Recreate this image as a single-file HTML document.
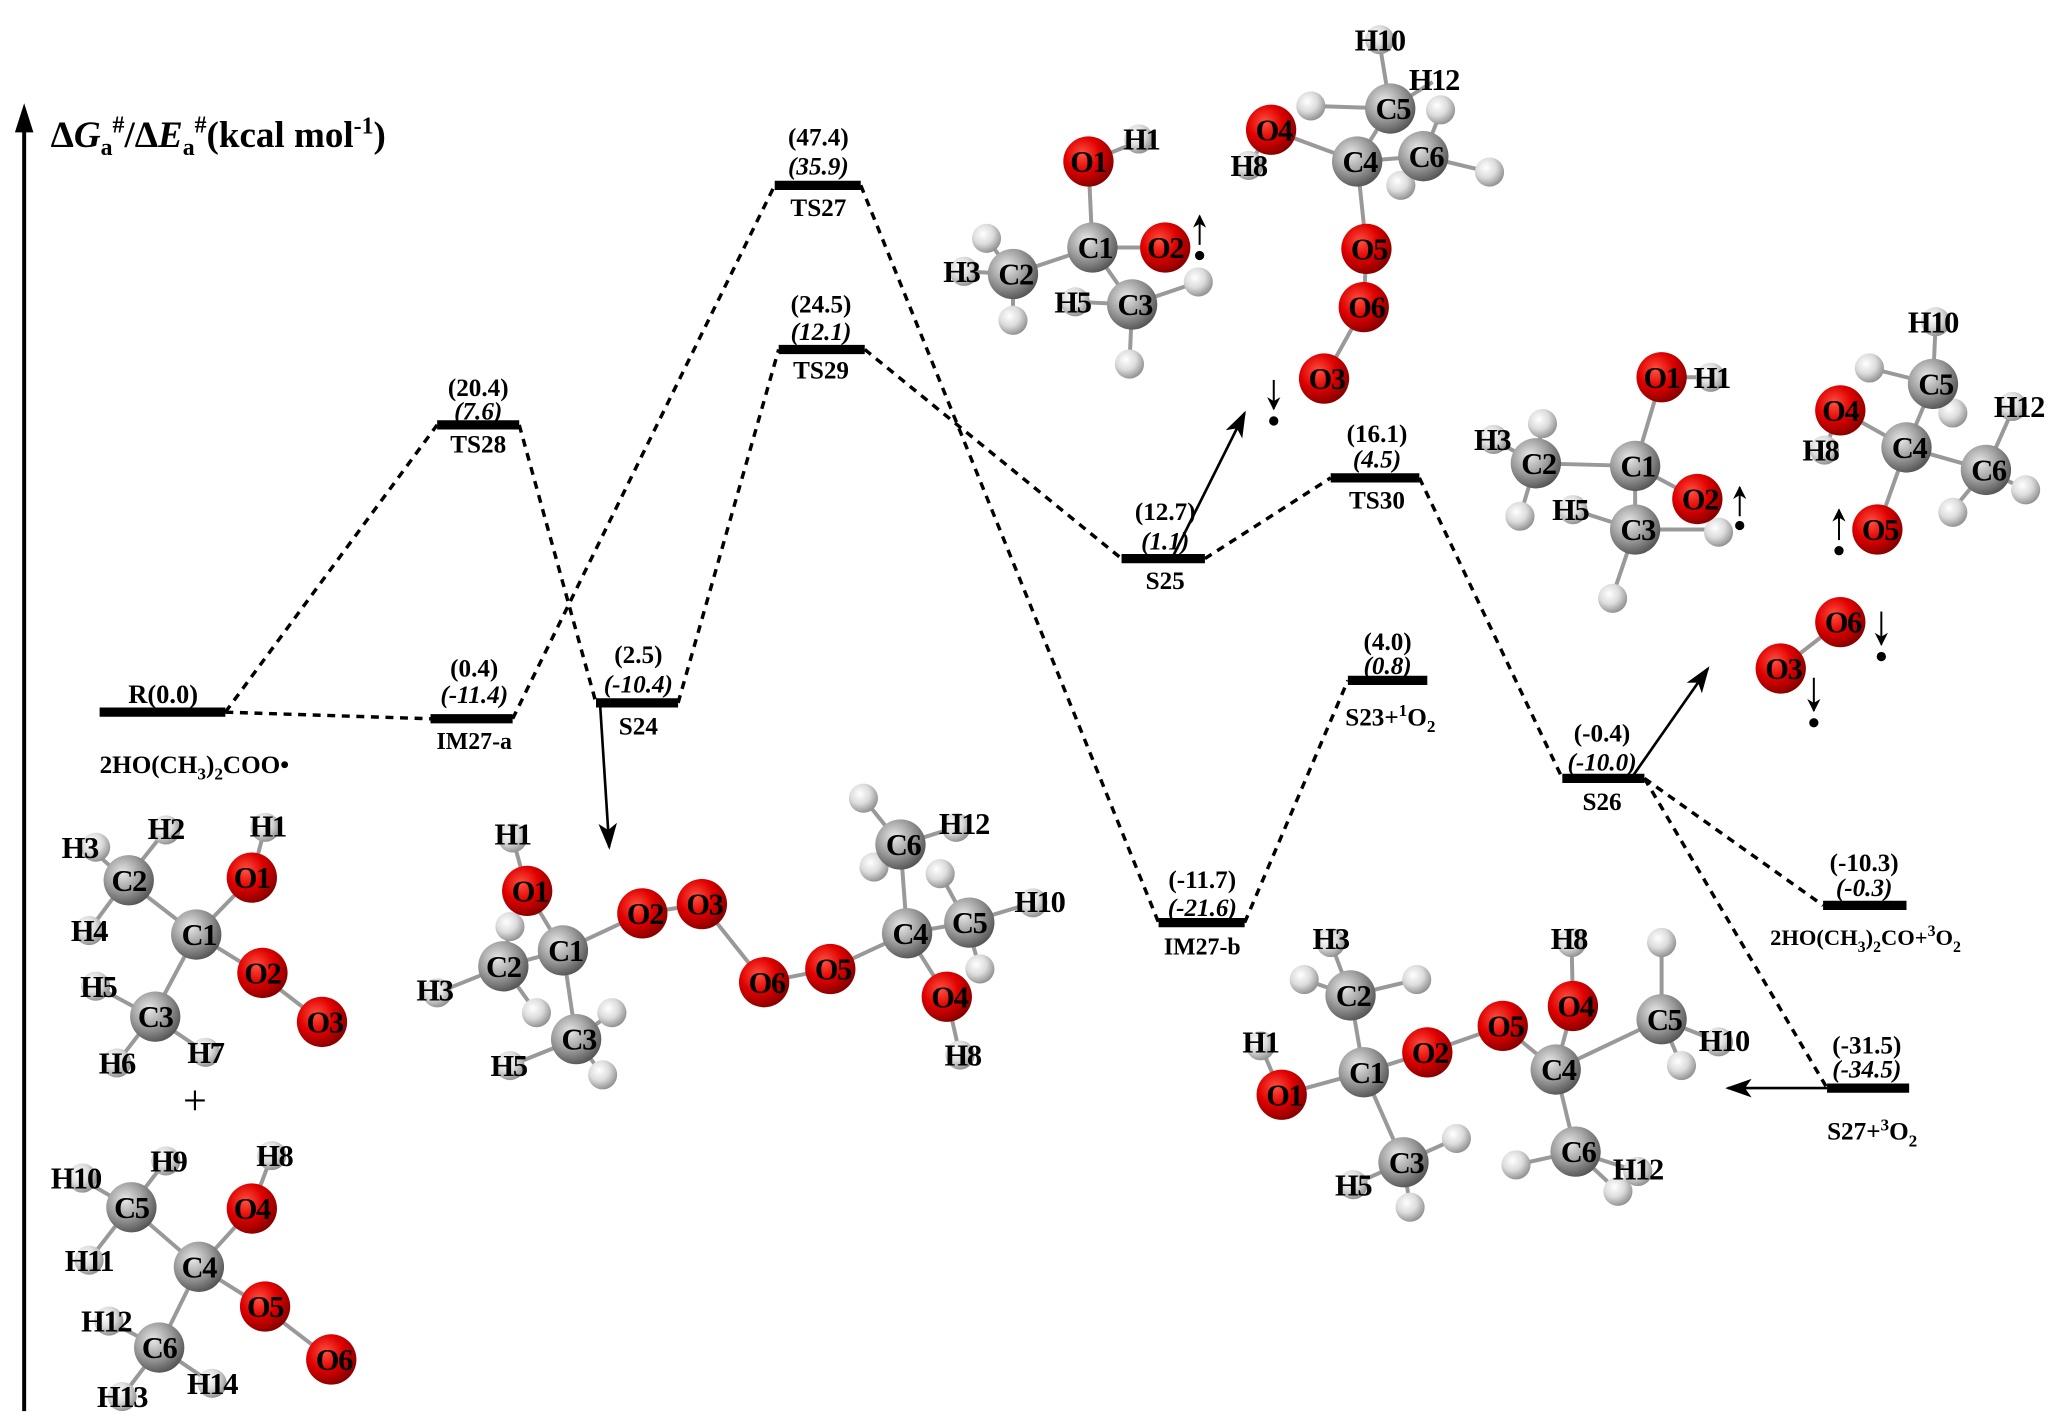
<!DOCTYPE html>
<html><head><meta charset="utf-8"><style>
html,body{margin:0;padding:0;background:#fff;}
svg{display:block;}
text{font-family:"Liberation Serif",serif;font-weight:bold;fill:#000;}
.t{font-size:19px;text-anchor:middle;}
.i{font-size:19px;text-anchor:middle;font-style:italic;}
.a{font-size:23px;text-anchor:middle;letter-spacing:-1px;}
.d{stroke:#000;stroke-width:2.6;stroke-dasharray:6,5;fill:none;}
.b{stroke:#000;stroke-width:7;}
.s{stroke:#000;stroke-width:2;}
.bd{stroke:#999;stroke-width:3;}
</style></head><body>
<svg width="2067" height="1423" viewBox="0 0 1561 1075" xmlns="http://www.w3.org/2000/svg">
<defs>
<radialGradient id="gO" cx="0.38" cy="0.35" r="0.7"><stop offset="0" stop-color="#ff5040"/><stop offset="0.5" stop-color="#e00000"/><stop offset="1" stop-color="#800000"/></radialGradient>
<radialGradient id="gC" cx="0.38" cy="0.35" r="0.7"><stop offset="0" stop-color="#e8e8e8"/><stop offset="0.5" stop-color="#a0a0a0"/><stop offset="1" stop-color="#505050"/></radialGradient>
<radialGradient id="gH" cx="0.38" cy="0.35" r="0.7"><stop offset="0" stop-color="#ffffff"/><stop offset="0.5" stop-color="#dcdcdc"/><stop offset="1" stop-color="#8a8a8a"/></radialGradient>
<marker id="ar" markerWidth="10" markerHeight="10" refX="9" refY="5" orient="auto" markerUnits="userSpaceOnUse"><path d="M0,0 L10,5 L0,10 L3,5 z" fill="#000"/></marker>
<marker id="ar2" markerWidth="20" markerHeight="14" refX="18" refY="7" orient="auto" markerUnits="userSpaceOnUse"><path d="M0,0 L20,7 L0,14 L5,7 z" fill="#000"/></marker>
</defs>

<!-- axis -->
<line x1="18" y1="1066" x2="18" y2="98" stroke="#000" stroke-width="3"/>
<path d="M18,78 L11,100 L25,100 z" fill="#000"/>
<text x="38" y="111" style="font-size:28px">Δ<tspan font-style="italic">G</tspan><tspan style="font-size:18px" dy="6">a</tspan><tspan style="font-size:18px" dy="-17">#</tspan><tspan dy="11">/Δ</tspan><tspan font-style="italic">E</tspan><tspan style="font-size:18px" dy="6">a</tspan><tspan style="font-size:18px" dy="-17">#</tspan><tspan dy="11">(kcal mol</tspan><tspan style="font-size:18px" dy="-10">-1</tspan><tspan dy="10">)</tspan></text>

<!-- dashed connectors -->
<g class="d">
<line x1="170" y1="538" x2="330" y2="321"/>
<line x1="170" y1="538" x2="325" y2="543"/>
<line x1="392" y1="321" x2="450" y2="531"/>
<line x1="387" y1="543" x2="585" y2="140"/>
<line x1="512" y1="531" x2="588" y2="264"/>
<line x1="650" y1="140" x2="875" y2="697"/>
<line x1="653" y1="264" x2="847" y2="422"/>
<line x1="910" y1="422" x2="1005" y2="361"/>
<line x1="940" y1="697" x2="1018" y2="514"/>
<line x1="1072" y1="361" x2="1180" y2="588"/>
<line x1="1242" y1="588" x2="1377" y2="684"/>
<line x1="1242" y1="588" x2="1380" y2="822"/>
</g>

<!-- bars -->
<g class="b">
<line x1="75" y1="538" x2="170" y2="538"/>
<line x1="330" y1="321" x2="392" y2="321"/>
<line x1="325" y1="543" x2="387" y2="543"/>
<line x1="450" y1="531" x2="512" y2="531"/>
<line x1="585" y1="140" x2="650" y2="140"/>
<line x1="588" y1="264" x2="653" y2="264"/>
<line x1="847" y1="422" x2="910" y2="422"/>
<line x1="1005" y1="361" x2="1072" y2="361"/>
<line x1="1018" y1="514" x2="1078" y2="514"/>
<line x1="875" y1="697" x2="940" y2="697"/>
<line x1="1180" y1="588" x2="1242" y2="588"/>
<line x1="1377" y1="684" x2="1440" y2="684"/>
<line x1="1380" y1="822" x2="1442" y2="822"/>
</g>

<!-- solid arrows -->
<g class="s">
<line x1="885" y1="422" x2="940" y2="312" marker-end="url(#ar2)"/>
<line x1="453" y1="531" x2="460" y2="640" marker-end="url(#ar2)"/>
<line x1="1232" y1="588" x2="1290" y2="505" marker-end="url(#ar2)"/>
<line x1="1380" y1="822" x2="1305" y2="822" marker-end="url(#ar2)"/>
</g>

<!-- energy labels -->
<text class="t" x="123" y="531" style="font-size:20px">R(0.0)</text>
<text x="75" y="584" style="font-size:19px">2HO(CH<tspan dy="5" style="font-size:13px">3</tspan><tspan dy="-5">)</tspan><tspan dy="5" style="font-size:13px">2</tspan><tspan dy="-5">COO•</tspan></text>

<text class="t" x="361" y="299">(20.4)</text><text class="i" x="361" y="317">(7.6)</text><text class="t" x="361" y="342">TS28</text>
<text class="t" x="358" y="511">(0.4)</text><text class="i" x="358" y="531">(-11.4)</text><text class="t" x="358" y="566" style="font-size:18px">IM27-a</text>
<text class="t" x="482" y="501">(2.5)</text><text class="i" x="482" y="523">(-10.4)</text><text class="t" x="482" y="555">S24</text>
<text class="t" x="618" y="110">(47.4)</text><text class="i" x="618" y="132">(35.9)</text><text class="t" x="618" y="163">TS27</text>
<text class="t" x="620" y="236">(24.5)</text><text class="i" x="620" y="257">(12.1)</text><text class="t" x="620" y="286">TS29</text>
<text class="t" x="880" y="393">(12.7)</text><text class="i" x="880" y="415">(1.1)</text><text class="t" x="880" y="445">S25</text>
<text class="t" x="1040" y="334">(16.1)</text><text class="i" x="1040" y="353">(4.5)</text><text class="t" x="1040" y="384">TS30</text>
<text class="t" x="1048" y="491">(4.0)</text><text class="i" x="1048" y="509">(0.8)</text><text x="1016" y="548" style="font-size:19px">S23+<tspan dy="-7" style="font-size:13px">1</tspan><tspan dy="7">O</tspan><tspan dy="5" style="font-size:13px">2</tspan></text>
<text class="t" x="908" y="671">(-11.7)</text><text class="i" x="908" y="692">(-21.6)</text><text class="t" x="908" y="721" style="font-size:18px">IM27-b</text>
<text class="t" x="1210" y="560">(-0.4)</text><text class="i" x="1210" y="582">(-10.0)</text><text class="t" x="1210" y="612">S26</text>
<text class="t" x="1408" y="658">(-10.3)</text><text class="i" x="1408" y="677">(-0.3)</text>
<text x="1337" y="714" style="font-size:17px">2HO(CH<tspan dy="5" style="font-size:12px">3</tspan><tspan dy="-5">)</tspan><tspan dy="5" style="font-size:12px">2</tspan><tspan dy="-5">CO+</tspan><tspan dy="-7" style="font-size:12px">3</tspan><tspan dy="7">O</tspan><tspan dy="5" style="font-size:12px">2</tspan></text>
<text class="t" x="1410" y="796">(-31.5)</text><text class="i" x="1410" y="814">(-34.5)</text>
<text x="1380" y="861" style="font-size:19px">S27+<tspan dy="-7" style="font-size:13px">3</tspan><tspan dy="7">O</tspan><tspan dy="5" style="font-size:13px">2</tspan></text>
<text x="147" y="842" style="font-size:32px;font-weight:normal;text-anchor:middle">+</text>

<!-- ===== Molecule 1 (reactant A) ===== -->
<g class="bd">
<line x1="95" y1="665" x2="148" y2="706"/><line x1="148" y1="706" x2="190" y2="663"/><line x1="148" y1="706" x2="195" y2="735"/><line x1="195" y1="735" x2="243" y2="772"/><line x1="148" y1="706" x2="115" y2="768"/>
<line x1="95" y1="665" x2="67" y2="640"/><line x1="95" y1="665" x2="125" y2="627"/><line x1="95" y1="665" x2="67" y2="703"/><line x1="190" y1="663" x2="200" y2="625"/>
<line x1="115" y1="768" x2="72" y2="745"/><line x1="115" y1="768" x2="88" y2="803"/><line x1="115" y1="768" x2="155" y2="795"/>
</g>
<g fill="url(#gH)"><circle cx="72" cy="640" r="11"/><circle cx="125" cy="627" r="11"/><circle cx="200" cy="625" r="11"/><circle cx="67" cy="703" r="11"/><circle cx="72" cy="745" r="11"/><circle cx="88" cy="803" r="11"/><circle cx="155" cy="795" r="11"/></g>
<g fill="url(#gC)"><circle cx="97" cy="665" r="19"/><circle cx="148" cy="706" r="19"/><circle cx="117" cy="768" r="19"/></g>
<g fill="url(#gO)"><circle cx="190" cy="663" r="19"/><circle cx="198" cy="735" r="19"/><circle cx="243" cy="772" r="19"/></g>
<g class="a">
<text x="60" y="648">H3</text><text x="125" y="634">H2</text><text x="202" y="632">H1</text><text x="97" y="673">C2</text><text x="190" y="671">O1</text><text x="150" y="714">C1</text><text x="67" y="711">H4</text><text x="198" y="743">O2</text><text x="245" y="780">O3</text><text x="74" y="753">H5</text><text x="117" y="776">C3</text><text x="88" y="811">H6</text><text x="155" y="803">H7</text>
</g>

<!-- ===== Molecule 2 (reactant B) ===== -->
<g class="bd">
<line x1="98" y1="912" x2="150" y2="957"/><line x1="150" y1="957" x2="190" y2="913"/><line x1="150" y1="957" x2="198" y2="987"/><line x1="198" y1="987" x2="250" y2="1027"/><line x1="150" y1="957" x2="120" y2="1018"/>
<line x1="98" y1="912" x2="60" y2="890"/><line x1="98" y1="912" x2="125" y2="877"/><line x1="98" y1="912" x2="67" y2="952"/><line x1="190" y1="913" x2="205" y2="873"/><line x1="120" y1="1018" x2="82" y2="998"/><line x1="120" y1="1018" x2="92" y2="1055"/><line x1="120" y1="1018" x2="160" y2="1045"/>
</g>
<g fill="url(#gH)"><circle cx="62" cy="890" r="11"/><circle cx="125" cy="877" r="11"/><circle cx="205" cy="873" r="11"/><circle cx="67" cy="952" r="11"/><circle cx="82" cy="998" r="11"/><circle cx="92" cy="1055" r="11"/><circle cx="160" cy="1045" r="11"/></g>
<g fill="url(#gC)"><circle cx="99" cy="912" r="19"/><circle cx="150" cy="957" r="19"/><circle cx="120" cy="1018" r="19"/></g>
<g fill="url(#gO)"><circle cx="190" cy="913" r="19"/><circle cx="200" cy="987" r="19"/><circle cx="250" cy="1027" r="19"/></g>
<g class="a">
<text x="57" y="898">H10</text><text x="127" y="885">H9</text><text x="207" y="881">H8</text><text x="99" y="920">C5</text><text x="190" y="921">O4</text><text x="67" y="960">H11</text><text x="150" y="965">C4</text><text x="200" y="995">O5</text><text x="252" y="1035">O6</text><text x="80" y="1006">H12</text><text x="120" y="1026">C6</text><text x="92" y="1063">H13</text><text x="160" y="1053">H14</text>
</g>

<!-- ===== Molecule S24 ===== -->
<g class="bd">
<line x1="398" y1="673" x2="425" y2="718"/><line x1="425" y1="718" x2="380" y2="730"/><line x1="425" y1="718" x2="485" y2="690"/><line x1="485" y1="690" x2="530" y2="683"/><line x1="530" y1="683" x2="577" y2="742"/><line x1="577" y1="742" x2="627" y2="732"/><line x1="627" y1="732" x2="685" y2="705"/><line x1="685" y1="705" x2="730" y2="697"/><line x1="685" y1="705" x2="680" y2="638"/><line x1="685" y1="705" x2="715" y2="753"/><line x1="425" y1="718" x2="435" y2="785"/>
<line x1="398" y1="673" x2="387" y2="633"/><line x1="380" y1="730" x2="330" y2="750"/><line x1="380" y1="730" x2="385" y2="700"/><line x1="380" y1="730" x2="405" y2="765"/><line x1="435" y1="785" x2="462" y2="765"/><line x1="435" y1="785" x2="385" y2="805"/><line x1="435" y1="785" x2="455" y2="812"/><line x1="680" y1="638" x2="652" y2="603"/><line x1="680" y1="638" x2="722" y2="625"/><line x1="680" y1="638" x2="660" y2="655"/><line x1="730" y1="697" x2="780" y2="682"/><line x1="730" y1="697" x2="710" y2="660"/><line x1="730" y1="697" x2="740" y2="732"/><line x1="715" y1="753" x2="725" y2="797"/>
</g>
<g fill="url(#gH)"><circle cx="387" cy="633" r="11"/><circle cx="385" cy="700" r="11"/><circle cx="330" cy="750" r="11"/><circle cx="405" cy="765" r="11"/><circle cx="462" cy="765" r="11"/><circle cx="385" cy="805" r="11"/><circle cx="455" cy="812" r="11"/><circle cx="652" cy="603" r="11"/><circle cx="722" cy="625" r="11"/><circle cx="660" cy="655" r="11"/><circle cx="710" cy="660" r="11"/><circle cx="780" cy="682" r="11"/><circle cx="740" cy="732" r="11"/><circle cx="725" cy="797" r="11"/></g>
<g fill="url(#gC)"><circle cx="380" cy="730" r="19"/><circle cx="425" cy="718" r="19"/><circle cx="435" cy="785" r="19"/><circle cx="685" cy="705" r="19"/><circle cx="732" cy="697" r="19"/><circle cx="680" cy="638" r="19"/></g>
<g fill="url(#gO)"><circle cx="398" cy="673" r="19"/><circle cx="485" cy="690" r="19"/><circle cx="530" cy="683" r="19"/><circle cx="577" cy="742" r="19"/><circle cx="627" cy="732" r="19"/><circle cx="715" cy="753" r="19"/></g>
<g class="a">
<text x="387" y="638">H1</text><text x="400" y="681">O1</text><text x="380" y="738">C2</text><text x="427" y="726">C1</text><text x="487" y="698">O2</text><text x="532" y="691">O3</text><text x="328" y="756">H3</text><text x="437" y="793">C3</text><text x="384" y="813">H5</text><text x="579" y="750">O6</text><text x="629" y="740">O5</text><text x="687" y="713">C4</text><text x="732" y="705">C5</text><text x="682" y="646">C6</text><text x="728" y="630">H12</text><text x="785" y="689">H10</text><text x="717" y="761">O4</text><text x="727" y="805">H8</text>
</g>

<!-- ===== Top molecules (S25) ===== -->
<g class="bd">
<line x1="822" y1="122" x2="825" y2="187"/><line x1="822" y1="122" x2="860" y2="107"/><line x1="825" y1="187" x2="880" y2="187"/><line x1="825" y1="187" x2="765" y2="207"/><line x1="825" y1="187" x2="855" y2="230"/><line x1="765" y1="207" x2="745" y2="180"/><line x1="765" y1="207" x2="728" y2="205"/><line x1="765" y1="207" x2="765" y2="242"/><line x1="855" y1="230" x2="905" y2="213"/><line x1="855" y1="230" x2="812" y2="228"/><line x1="855" y1="230" x2="853" y2="275"/>
<line x1="960" y1="98" x2="1025" y2="122"/><line x1="960" y1="98" x2="943" y2="125"/><line x1="1025" y1="122" x2="1050" y2="82"/><line x1="1025" y1="122" x2="1075" y2="118"/><line x1="1025" y1="122" x2="1032" y2="188"/><line x1="1032" y1="188" x2="1030" y2="232"/><line x1="1030" y1="232" x2="1000" y2="286"/><line x1="1050" y1="82" x2="1042" y2="33"/><line x1="1050" y1="82" x2="990" y2="80"/><line x1="1050" y1="82" x2="1082" y2="62"/><line x1="1075" y1="118" x2="1125" y2="130"/><line x1="1075" y1="118" x2="1058" y2="140"/><line x1="1075" y1="118" x2="1088" y2="85"/>
</g>
<g fill="url(#gH)"><circle cx="860" cy="105" r="11"/><circle cx="745" cy="180" r="11"/><circle cx="728" cy="205" r="11"/><circle cx="765" cy="242" r="11"/><circle cx="905" cy="213" r="11"/><circle cx="812" cy="228" r="11"/><circle cx="853" cy="275" r="11"/><circle cx="943" cy="125" r="11"/><circle cx="1042" cy="30" r="11"/><circle cx="990" cy="80" r="11"/><circle cx="1088" cy="83" r="11"/><circle cx="1125" cy="130" r="11"/><circle cx="1058" cy="140" r="11"/></g>
<g fill="url(#gC)"><circle cx="765" cy="207" r="19"/><circle cx="825" cy="187" r="19"/><circle cx="855" cy="230" r="19"/><circle cx="1025" cy="122" r="19"/><circle cx="1050" cy="82" r="19"/><circle cx="1075" cy="118" r="19"/></g>
<g fill="url(#gO)"><circle cx="822" cy="122" r="19"/><circle cx="880" cy="187" r="19"/><circle cx="960" cy="98" r="19"/><circle cx="1032" cy="188" r="19"/><circle cx="1030" cy="232" r="19"/><circle cx="1000" cy="286" r="19"/></g>
<g class="a">
<text x="822" y="130">O1</text><text x="862" y="113">H1</text><text x="827" y="195">C1</text><text x="880" y="195">O2</text><text x="767" y="215">C2</text><text x="726" y="213">H3</text><text x="857" y="238">C3</text><text x="810" y="236">H5</text><text x="962" y="106">O4</text><text x="943" y="133">H8</text><text x="1027" y="130">C4</text><text x="1052" y="90">C5</text><text x="1042" y="38">H10</text><text x="1083" y="68">H12</text><text x="1077" y="126">C6</text><text x="1034" y="196">O5</text><text x="1032" y="240">O6</text><text x="1002" y="294">O3</text>
</g>
<circle cx="906" cy="193" r="3.5" fill="#000"/><line x1="906" y1="185" x2="906" y2="163" stroke="#000" stroke-width="1.5" marker-end="url(#ar)"/>
<circle cx="962" cy="318" r="3.5" fill="#000"/><line x1="962" y1="287" x2="962" y2="309" stroke="#000" stroke-width="1.5" marker-end="url(#ar)"/>

<!-- ===== S26 fragments ===== -->
<g class="bd">
<line x1="1255" y1="285" x2="1235" y2="352"/><line x1="1255" y1="285" x2="1292" y2="285"/><line x1="1235" y1="352" x2="1160" y2="350"/><line x1="1235" y1="352" x2="1282" y2="377"/><line x1="1235" y1="352" x2="1235" y2="400"/><line x1="1160" y1="350" x2="1165" y2="320"/><line x1="1160" y1="350" x2="1128" y2="332"/><line x1="1160" y1="350" x2="1148" y2="390"/><line x1="1235" y1="400" x2="1298" y2="400"/><line x1="1235" y1="400" x2="1188" y2="385"/><line x1="1235" y1="400" x2="1218" y2="450"/>
<line x1="1460" y1="290" x2="1440" y2="338"/><line x1="1460" y1="290" x2="1462" y2="245"/><line x1="1460" y1="290" x2="1412" y2="278"/><line x1="1460" y1="290" x2="1475" y2="310"/><line x1="1440" y1="338" x2="1390" y2="310"/><line x1="1440" y1="338" x2="1500" y2="355"/><line x1="1440" y1="338" x2="1418" y2="400"/><line x1="1390" y1="310" x2="1378" y2="340"/><line x1="1500" y1="355" x2="1530" y2="370"/><line x1="1500" y1="355" x2="1475" y2="385"/><line x1="1500" y1="355" x2="1520" y2="310"/>
<line x1="1390" y1="470" x2="1345" y2="505"/>
</g>
<g fill="url(#gH)"><circle cx="1292" cy="285" r="11"/><circle cx="1165" cy="320" r="11"/><circle cx="1128" cy="332" r="11"/><circle cx="1148" cy="390" r="11"/><circle cx="1298" cy="402" r="11"/><circle cx="1188" cy="385" r="11"/><circle cx="1218" cy="452" r="11"/><circle cx="1462" cy="243" r="11"/><circle cx="1412" cy="278" r="11"/><circle cx="1475" cy="312" r="11"/><circle cx="1378" cy="340" r="11"/><circle cx="1530" cy="370" r="11"/><circle cx="1475" cy="387" r="11"/><circle cx="1520" cy="307" r="11"/></g>
<g fill="url(#gC)"><circle cx="1160" cy="350" r="19"/><circle cx="1235" cy="352" r="19"/><circle cx="1235" cy="400" r="19"/><circle cx="1460" cy="290" r="19"/><circle cx="1440" cy="338" r="19"/><circle cx="1500" cy="355" r="19"/></g>
<g fill="url(#gO)"><circle cx="1255" cy="285" r="19"/><circle cx="1282" cy="377" r="19"/><circle cx="1390" cy="310" r="19"/><circle cx="1418" cy="400" r="19"/><circle cx="1390" cy="470" r="19"/><circle cx="1345" cy="505" r="19"/></g>
<g class="a">
<text x="1255" y="293">O1</text><text x="1293" y="293">H1</text><text x="1127" y="340">H3</text><text x="1162" y="358">C2</text><text x="1237" y="360">C1</text><text x="1284" y="385">O2</text><text x="1186" y="393">H5</text><text x="1237" y="408">C3</text>
<text x="1460" y="251">H10</text><text x="1462" y="298">C5</text><text x="1390" y="318">O4</text><text x="1525" y="315">H12</text><text x="1375" y="348">H8</text><text x="1442" y="346">C4</text><text x="1502" y="363">C6</text><text x="1420" y="408">O5</text><text x="1392" y="478">O6</text><text x="1347" y="513">O3</text>
</g>
<circle cx="1314" cy="397" r="3.5" fill="#000"/><line x1="1314" y1="390" x2="1314" y2="368" stroke="#000" stroke-width="1.5" marker-end="url(#ar)"/>
<circle cx="1389" cy="416" r="3.5" fill="#000"/><line x1="1389" y1="408" x2="1389" y2="385" stroke="#000" stroke-width="1.5" marker-end="url(#ar)"/>
<circle cx="1421" cy="496" r="3.5" fill="#000"/><line x1="1421" y1="462" x2="1421" y2="487" stroke="#000" stroke-width="1.5" marker-end="url(#ar)"/>
<circle cx="1370" cy="546" r="3.5" fill="#000"/><line x1="1370" y1="512" x2="1370" y2="537" stroke="#000" stroke-width="1.5" marker-end="url(#ar)"/>

<!-- ===== S27 molecule ===== -->
<g class="bd">
<line x1="1020" y1="752" x2="1030" y2="810"/><line x1="1030" y1="810" x2="968" y2="827"/><line x1="1030" y1="810" x2="1078" y2="795"/><line x1="1078" y1="795" x2="1135" y2="775"/><line x1="1135" y1="775" x2="1175" y2="808"/><line x1="1175" y1="808" x2="1188" y2="760"/><line x1="1175" y1="808" x2="1255" y2="770"/><line x1="1175" y1="808" x2="1190" y2="870"/><line x1="1030" y1="810" x2="1060" y2="878"/>
<line x1="1020" y1="752" x2="1005" y2="712"/><line x1="1020" y1="752" x2="985" y2="740"/><line x1="1020" y1="752" x2="1070" y2="740"/><line x1="968" y1="827" x2="952" y2="790"/><line x1="1188" y1="760" x2="1187" y2="712"/><line x1="1255" y1="770" x2="1255" y2="712"/><line x1="1255" y1="770" x2="1298" y2="787"/><line x1="1255" y1="770" x2="1270" y2="805"/><line x1="1060" y1="878" x2="1100" y2="860"/><line x1="1060" y1="878" x2="1022" y2="895"/><line x1="1060" y1="878" x2="1065" y2="912"/><line x1="1190" y1="870" x2="1145" y2="880"/><line x1="1190" y1="870" x2="1222" y2="900"/><line x1="1190" y1="870" x2="1237" y2="885"/>
</g>
<g fill="url(#gH)"><circle cx="1005" cy="712" r="11"/><circle cx="985" cy="740" r="11"/><circle cx="1070" cy="740" r="11"/><circle cx="952" cy="790" r="11"/><circle cx="1187" cy="712" r="11"/><circle cx="1255" cy="712" r="11"/><circle cx="1298" cy="787" r="11"/><circle cx="1270" cy="805" r="11"/><circle cx="1100" cy="860" r="11"/><circle cx="1022" cy="895" r="11"/><circle cx="1065" cy="912" r="11"/><circle cx="1145" cy="880" r="11"/><circle cx="1222" cy="900" r="11"/><circle cx="1237" cy="885" r="11"/></g>
<g fill="url(#gC)"><circle cx="1020" cy="752" r="19"/><circle cx="1030" cy="810" r="19"/><circle cx="1060" cy="878" r="19"/><circle cx="1175" cy="808" r="19"/><circle cx="1255" cy="770" r="19"/><circle cx="1190" cy="870" r="19"/></g>
<g fill="url(#gO)"><circle cx="968" cy="827" r="19"/><circle cx="1078" cy="795" r="19"/><circle cx="1135" cy="775" r="19"/><circle cx="1188" cy="760" r="19"/></g>
<g class="a">
<text x="1005" y="717">H3</text><text x="1022" y="760">C2</text><text x="1185" y="717">H8</text><text x="1190" y="768">O4</text><text x="1177" y="816">C4</text><text x="1257" y="778">C5</text><text x="1302" y="794">H10</text><text x="952" y="795">H1</text><text x="970" y="835">O1</text><text x="1032" y="818">C1</text><text x="1080" y="803">O2</text><text x="1137" y="783">O5</text><text x="1062" y="886">C3</text><text x="1022" y="903">H5</text><text x="1192" y="878">C6</text><text x="1237" y="891">H12</text>
</g>
</svg>
</body></html>
